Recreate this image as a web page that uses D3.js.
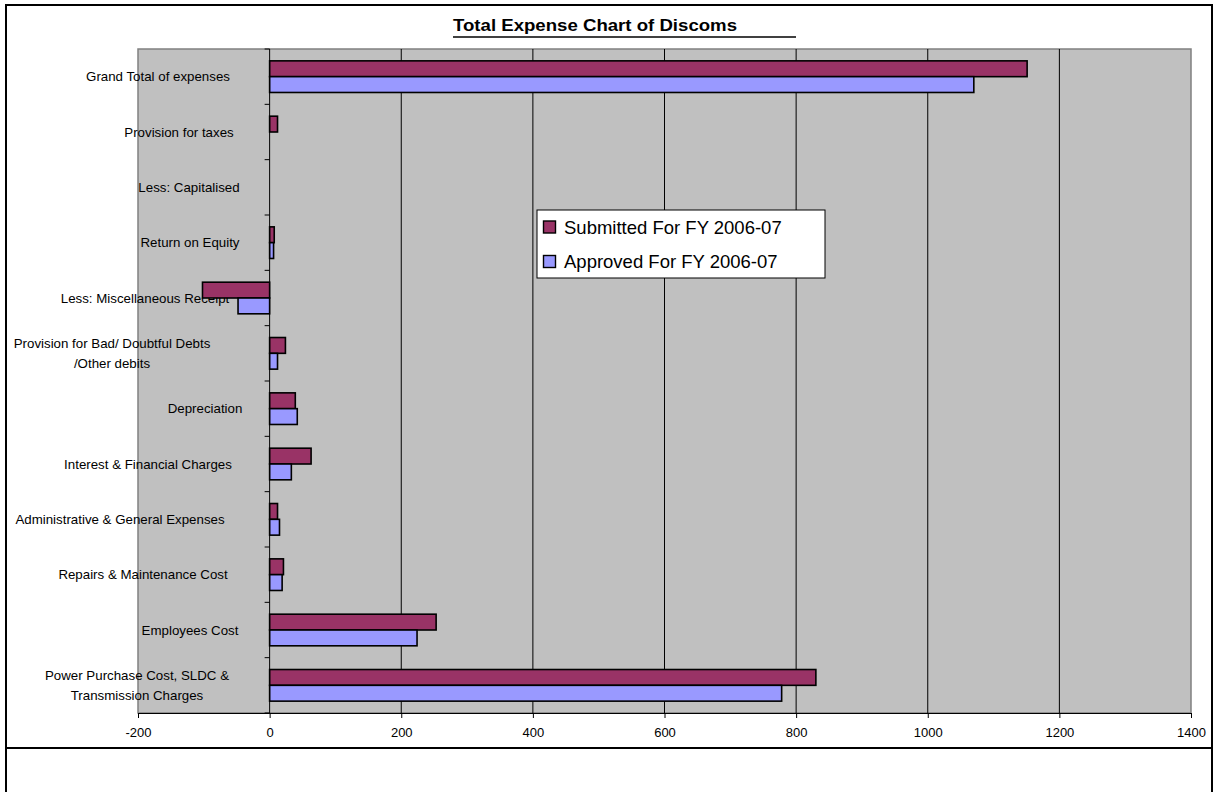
<!DOCTYPE html>
<html>
<head>
<meta charset="utf-8">
<script src="https://cdn.jsdelivr.net/npm/d3@7"></script>
<style>
  html, body { margin: 0; padding: 0; background: #fff; }
  svg { display: block; font-family: "Liberation Sans", Arial, sans-serif; }
</style>
</head>
<body>
<svg id="chart" width="1217" height="792"></svg>
<script>
// Expense heads, listed bottom to top as on the category axis
const categories = [
  ["Power Purchase Cost, SLDC &", "Transmission Charges"],
  ["Employees Cost"],
  ["Repairs & Maintenance Cost"],
  ["Administrative & General Expenses"],
  ["Interest & Financial Charges"],
  ["Depreciation"],
  ["Provision for Bad/ Doubtful Debts", "/Other debits"],
  ["Less: Miscellaneous Receipt"],
  ["Return on Equity"],
  ["Less: Capitalised"],
  ["Provision for taxes"],
  ["Grand Total of expenses"]
];

const seriesNames = ["Submitted For FY 2006-07", "Approved For FY 2006-07"];
const submitted = [830, 253, 21, 12, 63, 39, 24, -102, 7, 0, 12, 1151];
const approved  = [778, 224, 19, 15, 33, 42, 12, -48, 6, 0, 0, 1070];

const xTicks = [-200, 0, 200, 400, 600, 800, 1000, 1200, 1400];

// Horizontal centre of each wrapped category label (same order as categories)
const labelCenters = [137, 190, 143, 120, 148, 205, 112, 145, 190, 189, 179, 158];

const colors = ["#993366", "#9999FF"];

const svg = d3.select("#chart");
const plot = { left: 138, right: 1191, top: 49, bottom: 713 };

const x = d3.scaleLinear().domain([-200, 1400]).range([plot.left, plot.right]);
const y = d3.scaleBand()
  .domain(d3.range(categories.length))
  .range([plot.bottom, plot.top])
  .paddingInner(0)
  .paddingOuter(0);
const inner = d3.scaleBand()
  .domain([0, 1])
  .range([0, y.bandwidth()])
  .paddingInner(0)
  .paddingOuter(0.75);

// Outer chart frame
svg.append("rect").attr("x", 6).attr("y", 5).attr("width", 1206).attr("height", 743)
  .attr("fill", "#fff").attr("stroke", "#000").attr("stroke-width", 2);
svg.append("line").attr("x1", 6).attr("x2", 6).attr("y1", 748).attr("y2", 792)
  .attr("stroke", "#000").attr("stroke-width", 2);
svg.append("line").attr("x1", 1212).attr("x2", 1212).attr("y1", 748).attr("y2", 792)
  .attr("stroke", "#000").attr("stroke-width", 2);

// Title
svg.append("text")
  .attr("x", 453).attr("y", 31)
  .attr("font-size", 17).attr("font-weight", "bold")
  .attr("textLength", 284).attr("lengthAdjust", "spacingAndGlyphs")
  .text("Total Expense Chart of Discoms");
svg.append("line").attr("x1", 453).attr("x2", 796).attr("y1", 37).attr("y2", 37)
  .attr("stroke", "#000").attr("stroke-width", 1.5);

// Plot area
svg.append("rect")
  .attr("x", plot.left).attr("y", plot.top)
  .attr("width", plot.right - plot.left).attr("height", plot.bottom - plot.top)
  .attr("fill", "#C0C0C0").attr("stroke", "#808080").attr("stroke-width", 1.5);

// Vertical gridlines
svg.append("g")
  .selectAll("line")
  .data(xTicks.filter(d => d > 0 && d < 1400))
  .join("line")
  .attr("x1", d => x(d)).attr("x2", d => x(d))
  .attr("y1", plot.top).attr("y2", plot.bottom)
  .attr("stroke", "#000").attr("stroke-width", 1);

// Category labels
const labels = svg.append("g").attr("font-size", 13.3).attr("fill", "#000");
categories.forEach((lines, i) => {
  const cy = y(i) + y.bandwidth() / 2;
  const t = labels.append("text")
    .attr("x", labelCenters[i])
    .attr("text-anchor", "middle");
  lines.forEach((ln, j) => {
    t.append("tspan")
      .attr("x", labelCenters[i])
      .attr("y", cy + (j - (lines.length - 1) / 2) * 20)
      .attr("dy", "0.35em")
      .text(ln);
  });
});

// Bars
const series = [submitted, approved];
series.forEach((vals, s) => {
  svg.append("g")
    .selectAll("rect")
    .data(vals.map((v, i) => ({ v, i })).filter(d => d.v !== 0))
    .join("rect")
    .attr("x", d => x(Math.min(0, d.v)))
    .attr("width", d => Math.abs(x(d.v) - x(0)))
    .attr("y", d => y(d.i) + inner(s))
    .attr("height", inner.bandwidth())
    .attr("fill", colors[s])
    .attr("stroke", "#000").attr("stroke-width", 1.6);
});

// Category axis at zero with ticks between categories
const yAxisG = svg.append("g");
yAxisG.append("line")
  .attr("x1", x(0)).attr("x2", x(0)).attr("y1", plot.top).attr("y2", plot.bottom)
  .attr("stroke", "#000").attr("stroke-width", 1);
yAxisG.selectAll("line.tick")
  .data(d3.range(categories.length + 1))
  .join("line")
  .attr("class", "tick")
  .attr("x1", x(0) - 5).attr("x2", x(0))
  .attr("y1", d => plot.bottom - d * y.step())
  .attr("y2", d => plot.bottom - d * y.step())
  .attr("stroke", "#000").attr("stroke-width", 1);

// Value axis along the bottom
const xAxis = d3.axisBottom(x).tickValues(xTicks).tickFormat(d => String(d))
  .tickSize(5).tickSizeOuter(0).tickPadding(10);
const xg = svg.append("g")
  .attr("transform", `translate(0,${plot.bottom})`)
  .call(xAxis);
xg.select(".domain").attr("stroke", "#000").attr("stroke-width", 1);
xg.selectAll(".tick line").attr("stroke", "#000");
xg.selectAll(".tick text")
  .attr("font-family", "'Liberation Sans', Arial, sans-serif")
  .attr("font-size", 13).attr("fill", "#000");

// Legend
const legend = svg.append("g").attr("transform", "translate(537,210)");
legend.append("rect").attr("width", 288).attr("height", 68)
  .attr("fill", "#fff").attr("stroke", "#000").attr("stroke-width", 1);
seriesNames.forEach((name, i) => {
  const cy = 17 + i * 34.5;
  legend.append("rect")
    .attr("x", 6.5).attr("y", cy - 6).attr("width", 12).attr("height", 12)
    .attr("fill", colors[i]).attr("stroke", "#000").attr("stroke-width", 1.4);
  legend.append("text")
    .attr("x", 27).attr("y", cy).attr("dy", "0.36em")
    .attr("font-size", 18.5).attr("fill", "#000")
    .text(name);
});
</script>
</body>
</html>
